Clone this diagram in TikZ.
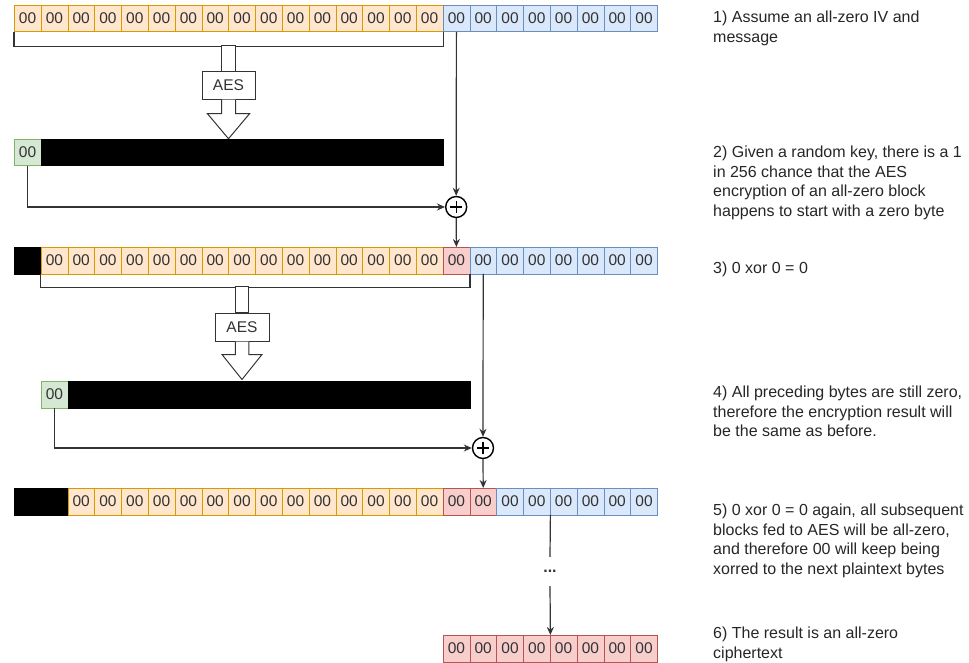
\documentclass[tikz,border=0pt]{standalone}
\usepackage{fontspec}
\setmainfont{Liberation Sans}
\usetikzlibrary{arrows.meta,calc}
\definecolor{yfill}{HTML}{FFE6CC}\definecolor{ydraw}{HTML}{D79B00}
\definecolor{bfill}{HTML}{DAE8FC}\definecolor{bdraw}{HTML}{6C8EBF}
\definecolor{rfill}{HTML}{F8CECC}\definecolor{rdraw}{HTML}{B85450}
\definecolor{gfill}{HTML}{D5E8D4}\definecolor{gdraw}{HTML}{82B366}
\definecolor{ink}{HTML}{333333}
\begin{document}
\begin{tikzpicture}[x=1pt,y=-1pt,
  cell/.style={draw, minimum width=26.8pt, minimum height=26.5pt, inner sep=0pt,
    anchor=north west, text=ink, font=\fontsize{15.5}{18}\selectfont},
  ycell/.style={cell, fill=yfill, draw=ydraw},
  bcell/.style={cell, fill=bfill, draw=bdraw},
  rcell/.style={cell, fill=rfill, draw=rdraw},
  gcell/.style={cell, fill=gfill, draw=gdraw},
  kcell/.style={cell, fill=black, draw=black},
  bar/.style={draw=black, fill=black, minimum width=402pt, minimum height=26.5pt,
    inner sep=0pt, anchor=north west},
  aesbox/.style={draw=ink, fill=white, line width=1pt, inner sep=0pt,
    minimum width=53pt, minimum height=27.5pt, font=\fontsize{15.5}{18}\selectfont, text=ink},
  hollow/.style={draw=ink, fill=white, line width=1pt, line join=miter},
  conn/.style={draw=ink, line width=1.2pt},
  arr/.style={conn, -{Stealth[length=8pt,width=7pt]}},
  xor/.style={circle, draw=black, line width=1.4pt, minimum size=21pt, inner sep=0pt, fill=white,
    path picture={\draw[line width=1.4pt]
      ([xshift=-6pt]path picture bounding box.center) -- ([xshift=6pt]path picture bounding box.center)
      ([yshift=-6pt]path picture bounding box.center) -- ([yshift=6pt]path picture bounding box.center);}},
  note/.style={anchor=base west, inner sep=0pt, text=black!85,
    font=\fontsize{16}{19.5}\selectfont}
]
\useasboundingbox (0,0) rectangle (969,663);

% ---- row 1: IV + message
\foreach \i in {0,...,15} \node[ycell] (a\i) at ({14+\i*26.8},5) {00};
\foreach \i in {16,...,23} \node[bcell] (a\i) at ({14+\i*26.8},5) {00};
\draw[conn] (a0.south west) -- ++(0,14.5) -| (a15.south east);

% ---- AES 1
\node[aesbox] (aes1) at (228.5,85.5) {AES};
\draw[hollow] ([xshift=-7pt]aes1.north) rectangle ++(14,-26);
\draw[hollow] ([xshift=-7pt]aes1.south) -- ++(0,14) -- ++(-14,0) -- ++(21,25)
  -- ++(21,-25) -- ++(-14,0) -- ++(0,-14);

% ---- row 2: first AES output
\node[gcell] (g1) at (14,139) {00};
\node[bar] (k1) at (40.8,139) {};
\node[xor] (x1) at (456.2,207) {};
\draw[arr] (a16.south) -- (x1.north);
\draw[arr] (g1.south) |- (x1.west);

% ---- row 3
\node[kcell] (c0) at (14,247) {};
\foreach \i in {1,...,15} \node[ycell] (c\i) at ({14+\i*26.8},247) {00};
\node[rcell] (c16) at ({14+16*26.8},247) {00};
\foreach \i in {17,...,23} \node[bcell] (c\i) at ({14+\i*26.8},247) {00};
\draw[arr] (x1.south) -- (c16.north);
\draw[conn] (c1.south west) -- ++(0,13.5) -| (c16.south east);

% ---- AES 2
\node[aesbox, minimum width=54pt, minimum height=28pt] (aes2) at (242,327) {AES};
\draw[hollow] ([xshift=-6.75pt]aes2.north) rectangle ++(13.5,-26);
\draw[hollow] ([xshift=-6.75pt]aes2.south) -- ++(0,13) -- ++(-13.25,0) -- ++(20,25)
  -- ++(20,-25) -- ++(-13.25,0) -- ++(0,-13);

% ---- row 4: second AES output
\node[gcell] (g2) at (40.8,381) {00};
\node[bar] (k2) at (67.6,381) {};
\node[xor] (x2) at (483,448) {};
\draw[arr] (c17.south) -- (x2.north);
\draw[arr] (g2.south) |- (x2.west);

% ---- row 5
\node[kcell, minimum width=53.6pt] (e0) at (14,488) {};
\foreach \i in {2,...,15} \node[ycell] (e\i) at ({14+\i*26.8},488) {00};
\foreach \i in {16,17} \node[rcell] (e\i) at ({14+\i*26.8},488) {00};
\foreach \i in {18,...,23} \node[bcell] (e\i) at ({14+\i*26.8},488) {00};
\draw[arr] (x2.south) -- (e17.north);

% ---- result
\foreach \i in {16,...,23} \node[rcell] (f\i) at ({14+\i*26.8},635) {00};
\node[inner sep=0pt, minimum height=29pt, text=ink, font=\bfseries\fontsize{16}{19.5}\selectfont]
  (dots) at (550,571.5) {...};
\draw[conn] (e19.south east) -- (dots.north);
\draw[arr] (dots.south) -- (f19.north east);

% ---- notes
\node[note] (n1) at (713,22.7) {\begin{tabular}[t]{@{}l@{}}1) Assume an all-zero IV and\\ message\end{tabular}};
\node[note] (n2) at (713,157.7) {\begin{tabular}[t]{@{}l@{}}2) Given a random key, there is a 1\\ in 256 chance that the AES\\ encryption of an all-zero block\\ happens to start with a zero byte\end{tabular}};
\node[note] (n3) at (713,273.7) {3) 0 xor 0 = 0};
\node[note] (n4) at (713,397.7) {\begin{tabular}[t]{@{}l@{}}4) All preceding bytes are still zero,\\ therefore the encryption result will\\ be the same as before.\end{tabular}};
\node[note] (n5) at (713,515.7) {\begin{tabular}[t]{@{}l@{}}5) 0 xor 0 = 0 again, all subsequent\\ blocks fed to AES will be all-zero,\\ and therefore 00 will keep being\\ xorred to the next plaintext bytes\end{tabular}};
\node[note] (n6) at (713,638.7) {\begin{tabular}[t]{@{}l@{}}6) The result is an all-zero\\ ciphertext\end{tabular}};
\end{tikzpicture}
\end{document}
